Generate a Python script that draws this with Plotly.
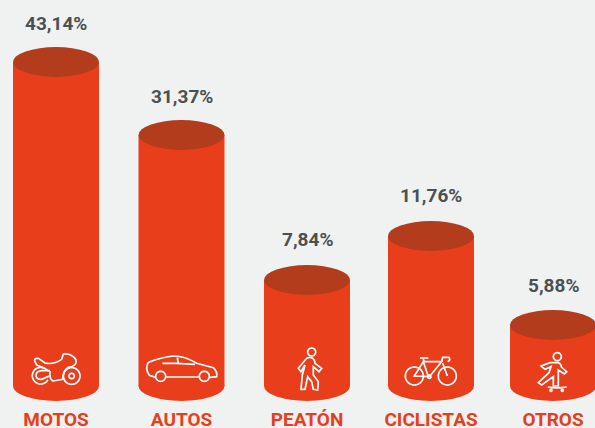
import math
import plotly.graph_objects as go

# Data
categories = ["MOTOS", "AUTOS", "PEATÓN", "CICLISTAS", "OTROS"]
percent_values = [43.14, 31.37, 7.84, 11.76, 5.88]
# The reference's bar heights are illustrative, not proportional to the percentages
drawn_heights = [324, 251, 106, 150, 61]
bar_centers = [56, 181.5, 307, 431, 553]
label_lifts = [39, 39, 41, 41, 40]

BG = "#f0f2f2"
RED = "#e83e1c"
TOP = "#b33c1c"
GREY = "#4b5052"
FONT = "Roboto"
BASE_PX = 386   # image row of the axis zero


def pt(zx, zy, ox):
    """zoom-crop coordinates -> axis coordinates"""
    return zx / 3 + ox, BASE_PX - (zy / 3 + 330)


def path(cmds, ox):
    out = []
    for c in cmds:
        if c == "Z":
            out.append("Z")
            continue
        letter, nums = c[0], c[1:]
        coords = []
        for i in range(0, len(nums), 2):
            x, y = pt(nums[i], nums[i + 1], ox)
            coords.append(f"{x:.2f},{y:.2f}")
        out.append(letter + " ".join(coords))
    return " ".join(out)


def circle(cx, cy, r, ox, a0=0, a1=360):
    n = 40
    cmds = []
    for i in range(n + 1):
        a = math.radians(a0 + (a1 - a0) * i / n)
        cmds.append(("L" if i else "M", cx + r * math.cos(a), cy + r * math.sin(a)))
    return path(cmds, ox)


icons = {
    0: (0, [
        path([("M", 105, 95), ("Q", 100, 84, 115, 85), ("L", 135, 99), ("Q", 160, 105, 185, 88),
              ("L", 190, 72), ("Q", 217, 70, 228, 90), ("Q", 232, 108, 205, 112),
              ("Q", 190, 120, 188, 148), ("L", 160, 153), ("Q", 148, 150, 150, 125),
              ("Q", 130, 112, 110, 105), "Z"], 0),
        circle(122, 137, 25, 0, 30, 320),
        path([("M", 150, 122), ("L", 125, 122), ("Q", 108, 124, 108, 137), ("Q", 110, 150, 125, 148), ("L", 148, 138)], 0),
        circle(215, 138, 25, 0),
        circle(215, 138, 8, 0),
    ]),
    1: (0, [
        path([("M", 445, 97), ("Q", 490, 80, 520, 78), ("Q", 555, 78, 590, 100), ("L", 640, 113),
              ("Q", 653, 125, 650, 140), ("L", 630, 142)], 0),
        path([("M", 597, 141), ("L", 498, 141)], 0),
        path([("M", 467, 142), ("L", 448, 136), ("Q", 434, 115, 445, 97)], 0),
        circle(482, 139, 15, 0),
        circle(613, 139, 15, 0),
        path([("M", 487, 100), ("L", 530, 100), ("L", 585, 103)], 0),
        path([("M", 532, 83), ("L", 535, 100)], 0),
    ]),
    2: (295, [
        circle(50, 66, 12, 295),
        path([("M", 35, 85), ("Q", 50, 78, 58, 90), ("L", 60, 100), ("L", 80, 115), ("L", 72, 125),
              ("L", 55, 110), ("L", 55, 135), ("L", 70, 155), ("L", 68, 180), ("L", 55, 178),
              ("L", 50, 155), ("L", 38, 140), ("L", 30, 178), ("L", 18, 178), ("L", 22, 135),
              ("L", 30, 105), ("L", 18, 125), ("L", 10, 115), "Z"], 295),
    ]),
    3: (295, [
        circle(358, 138, 27, 295),
        circle(457, 138, 27, 295),
        circle(403, 140, 5, 295),
        path([("M", 358, 138), ("L", 385, 95), ("L", 400, 140), "Z"], 295),
        path([("M", 385, 88), ("L", 387, 95), ("L", 440, 95), ("L", 403, 140)], 295),
        path([("M", 375, 84), ("L", 400, 84)], 295),
        path([("M", 440, 95), ("L", 443, 82), ("L", 462, 82), ("Q", 468, 92, 458, 95)], 295),
        path([("M", 443, 100), ("L", 457, 138)], 295),
    ]),
    4: (295, [
        circle(787, 80, 12, 295),
        path([("M", 765, 98), ("L", 790, 98), ("Q", 797, 100, 800, 112), ("L", 815, 125), ("L", 808, 132),
              ("L", 790, 120), ("L", 790, 168), ("L", 775, 168), ("L", 775, 140), ("L", 740, 165),
              ("L", 730, 158), ("L", 762, 128), ("L", 768, 110), ("L", 750, 118), ("L", 738, 108), "Z"], 295),
        path([("M", 758, 171), ("Q", 785, 176, 815, 171)], 295),
        circle(768, 181, 3, 295),
        circle(802, 181, 3, 295),
    ]),
}

fig = go.Figure()
fig.add_trace(go.Bar(
    x=bar_centers, y=drawn_heights, width=86,
    marker=dict(color=RED, line=dict(width=0)), showlegend=False, hoverinfo="skip",
))

RX, RY = 43, 15
shapes = []
annotations = []
for i, (xc, h, p) in enumerate(zip(bar_centers, drawn_heights, percent_values)):
    shapes.append(dict(type="circle", xref="x", yref="y", x0=xc - RX, x1=xc + RX, y0=-RY, y1=RY,
                       fillcolor=RED, line=dict(width=0), layer="above"))
    shapes.append(dict(type="circle", xref="x", yref="y", x0=xc - RX, x1=xc + RX, y0=h - RY, y1=h + RY,
                       fillcolor=TOP, line=dict(width=0), layer="above"))
    annotations.append(dict(
        x=xc, y=h, xref="x", yref="y", yshift=label_lifts[i], showarrow=False,
        text=f"{p:.2f}%".replace(".", ","),
        font=dict(family=FONT, size=19, color=GREY, weight=700),
    ))
    for d in icons[i][1]:
        shapes.append(dict(type="path", xref="x", yref="y", path=d, fillcolor="rgba(0,0,0,0)",
                           line=dict(color="white", width=1.7), layer="above"))

fig.update_layout(
    width=595, height=428,
    margin=dict(l=0, r=0, t=0, b=23, pad=0),
    paper_bgcolor=BG, plot_bgcolor=BG,
    shapes=shapes, annotations=annotations,
    xaxis=dict(range=[0, 595], tickmode="array", tickvals=bar_centers, ticktext=categories,
               automargin=False, showgrid=False, zeroline=False, showline=False, ticks="",
               ticklabelstandoff=1,
               tickfont=dict(family=FONT, size=19, color=RED, weight=700)),
    yaxis=dict(range=[-19, 386], visible=False, showgrid=False, zeroline=False),
)
fig.write_html("out.html", config=dict(displayModeBar=False),
               post_script="document.body.style.margin='0';document.body.style.overflow='hidden';")
